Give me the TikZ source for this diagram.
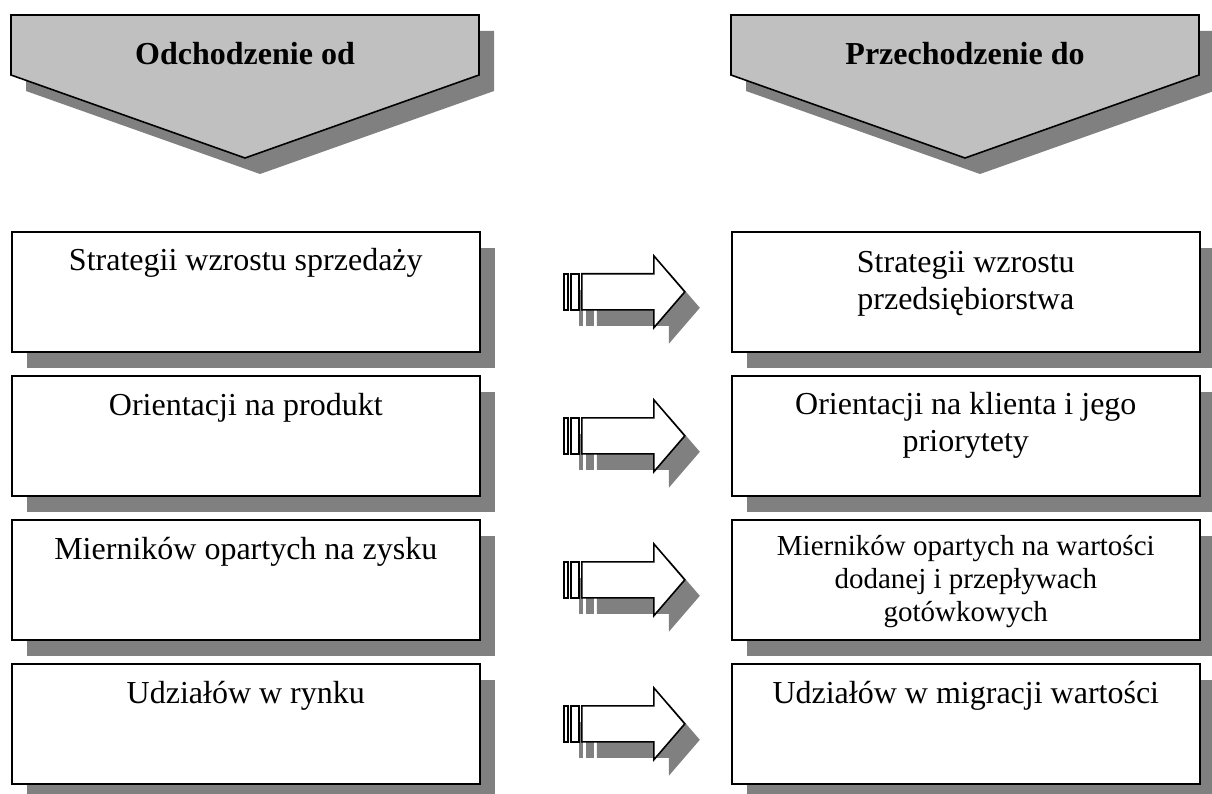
\documentclass[tikz,border=0pt]{standalone}
\usepackage{fontspec}
\setmainfont{Liberation Serif}
\usetikzlibrary{calc,shadows}
\definecolor{shadowgrey}{RGB}{128,128,128}
\definecolor{headgrey}{RGB}{192,192,192}
\tikzset{
  outline/.style={draw=black, line width=1.6pt, line join=miter},
  castshadow/.style={general shadow={fill=shadowgrey, shadow xshift=15pt, shadow yshift=-16pt}},
  itembox/.style={outline, castshadow, fill=white, minimum width=468pt,
    minimum height=120pt, inner sep=0pt, anchor=north west},
  % multi-line texts sit on the baseline of their last line
  itemtext/.style={anchor=base, align=center, inner sep=0pt,
    font=\fontsize{32}{37}\selectfont},
  smalltext/.style={itemtext, font=\fontsize{29}{33}\selectfont},
  headtext/.style={anchor=base, inner sep=0pt,
    font=\fontsize{32}{37}\selectfont\bfseries},
  fatarrow/.pic={
    \path[outline, castshadow, fill=white] (-42,-18) rectangle (-38,18);
    \path[outline, castshadow, fill=white] (-35,-18) rectangle (-27,18);
    \path[outline, castshadow, fill=white]
      (-24,-18) -- (48,-18) -- (48,-36) -- (79,0) -- (48,36) -- (48,18)
      -- (-24,18) -- cycle;
  }
}
\begin{document}
\begin{tikzpicture}[x=1pt, y=-1pt]
  \useasboundingbox (0,0) rectangle (1212,794);
  \clip (0,0) rectangle (1212,794);
  \fill[white] (0,0) rectangle (1212,794);

  % column headers
  \path[outline, castshadow, fill=headgrey]
    (11,15) -- (479,15) -- (479,75) -- (245,158) -- (11,75) -- cycle;
  \path[outline, castshadow, fill=headgrey]
    (731,15) -- (1199,15) -- (1199,75) -- (965,158) -- (731,75) -- cycle;
  \node[headtext] (hl) at (245,65) {Odchodzenie od};
  \node[headtext] (hr) at (965,65) {Przechodzenie do};

  % item boxes
  \foreach \i/\top in {1/231, 2/375, 3/519, 4/663} {
    \node[itembox] (l\i) at (11,\top) {};
    \node[itembox] (r\i) at (731,\top) {};
  }

  % texts
  \node[itemtext] (lt1) at ($(l1.north)+(0,40)$) {Strategii wzrostu sprzedaży};
  \node[itemtext] (lt2) at ($(l2.north)+(0,40)$) {Orientacji na produkt};
  \node[itemtext] (lt3) at ($(l3.north)+(0,40)$) {Mierników opartych na zysku};
  \node[itemtext] (lt4) at ($(l4.north)+(0,40)$) {Udziałów w rynku};

  \node[itemtext] (rt1) at ($(r1.north)+(0,78)$) {Strategii wzrostu\\przedsiębiorstwa};
  \node[itemtext] (rt2) at ($(r2.north)+(0,76)$) {Orientacji na klienta i jego\\priorytety};
  \node[smalltext] (rt3) at ($(r3.north)+(0,102)$) {Mierników opartych na wartości\\dodanej i przepływach\\gotówkowych};
  \node[itemtext] (rt4) at ($(r4.north)+(0,40)$) {Udziałów w migracji wartości};

  % transition arrows
  \foreach \i in {1,2,3,4} {
    \coordinate (m\i) at ($(l\i.east)!0.5!(r\i.west)$);
    \pic at (m\i) {fatarrow};
  }
\end{tikzpicture}
\end{document}
